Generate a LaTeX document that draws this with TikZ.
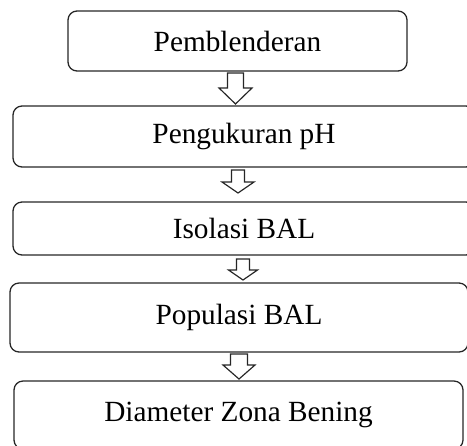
\documentclass[tikz,border=0pt]{standalone}
\usepackage{fontspec}
\setmainfont{Liberation Serif}
\usetikzlibrary{calc}
\tikzset{
  stagebox/.style={draw=black!85, line width=1.1pt, rounded corners=0.27cm, inner sep=0pt, font=\fontsize{25}{30}\selectfont},
  flowarrow/.style={draw=black!85, line width=1pt, fill=white, line join=miter}
}
% #1 top, #2 tip, #3 half shaft, #4 half head, #5 head length
\newcommand{\hollowdown}[5]{%
  \draw[flowarrow] ($(#1)+(-#3,0)$) -- ($(#2)+(-#3,#5)$) -- ($(#2)+(-#4,#5)$) -- (#2)
    -- ($(#2)+(#4,#5)$) -- ($(#2)+(#3,#5)$) -- ($(#1)+(#3,0)$) -- cycle;}
\begin{document}
\begin{tikzpicture}
  \useasboundingbox (0,0) rectangle (14.010,13.350);
  \node[stagebox, minimum width=10.17cm, minimum height=1.80cm] (blend) at (7.125,12.120) {Pemblenderan};
  \node[stagebox, minimum width=13.86cm, minimum height=1.83cm] (ph) at (7.320,9.255) {Pengukuran pH};
  \node[stagebox, minimum width=13.86cm, minimum height=1.59cm] (isolasi) at (7.320,6.495) {Isolasi BAL};
  \node[stagebox, minimum width=13.74cm, minimum height=2.07cm] (populasi) at (7.170,3.825) {Populasi BAL};
  \node[stagebox, minimum width=13.47cm, minimum height=2.04cm] (zona) at (7.155,0.900) {Diameter Zona Bening};
  % arrows between the stages
  \coordinate (a1top) at (7.065,11.160);
  \coordinate (a1tip) at (7.065,10.230);
  \coordinate (a2top) at (7.140,8.250);
  \coordinate (a2tip) at (7.140,7.560);
  \coordinate (a3top) at (7.290,5.580);
  \coordinate (a3tip) at (7.290,4.950);
  \coordinate (a4top) at (7.170,2.730);
  \coordinate (a4tip) at (7.170,1.980);
  \hollowdown{a1top}{a1tip}{0.240}{0.495}{0.480}
  \hollowdown{a2top}{a2tip}{0.195}{0.480}{0.330}
  \hollowdown{a3top}{a3tip}{0.195}{0.435}{0.300}
  \hollowdown{a4top}{a4tip}{0.255}{0.480}{0.420}
\end{tikzpicture}
\end{document}
